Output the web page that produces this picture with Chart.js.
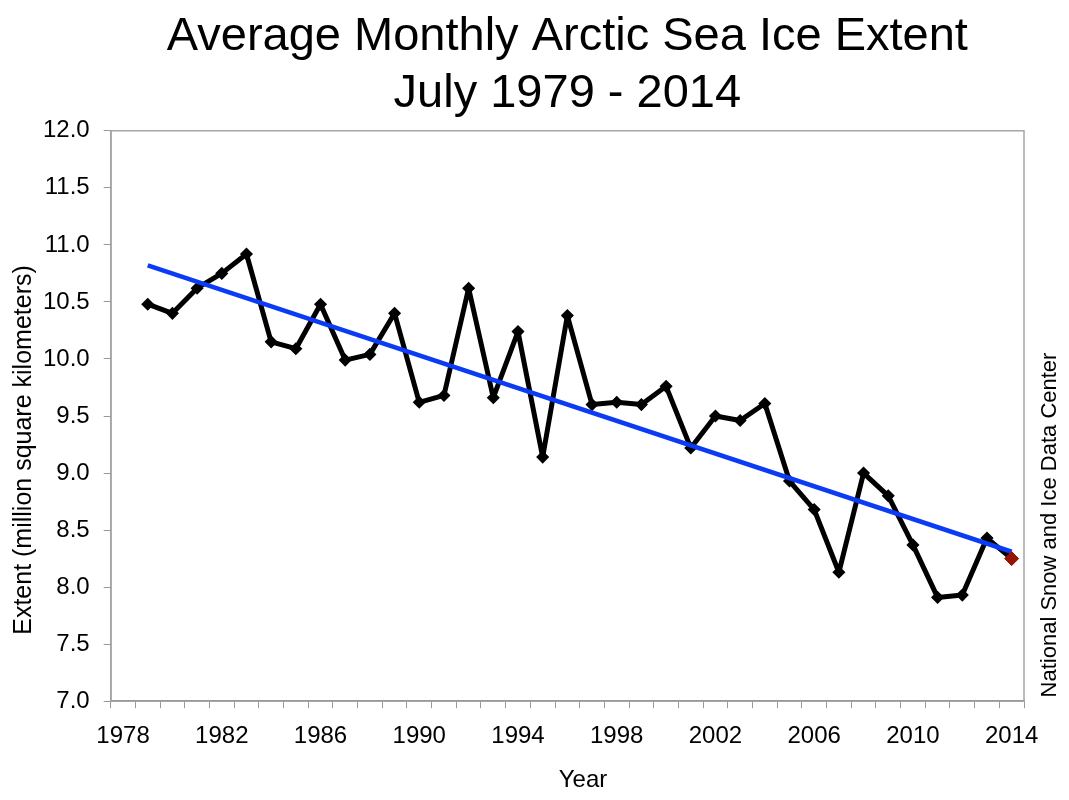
<!DOCTYPE html>
<html>
<head>
<meta charset="utf-8">
<script src="https://cdn.jsdelivr.net/npm/chart.js@4/dist/chart.umd.min.js"></script>
<style>
html,body{margin:0;padding:0;background:#fff;}
#wrap{width:1069px;height:800px;position:relative;}
</style>
</head>
<body>
<div id="wrap"><canvas id="c"></canvas></div>
<script>
// ---- data ----
const years = ['1978','1979','1980','1981','1982','1983','1984','1985','1986','1987',
  '1988','1989','1990','1991','1992','1993','1994','1995','1996','1997',
  '1998','1999','2000','2001','2002','2003','2004','2005','2006','2007',
  '2008','2009','2010','2011','2012','2013','2014'];
const extent = [null, 10.48, 10.40, 10.62, 10.75, 10.92, 10.15, 10.09, 10.48, 9.99,
  10.04, 10.40, 9.62, 9.68, 10.62, 9.66, 10.24, 9.14, 10.38, 9.60,
  9.62, 9.60, 9.76, 9.22, 9.50, 9.46, 9.61, 8.93, 8.68, 8.13,
  9.00, 8.80, 8.37, 7.91, 7.93, 8.43, 8.25];
const latestYear = '2014';
const latestValue = 8.25;
const trendStartYear = '1979';
const trendStartValue = 10.82;
const trendEndYear = '2014';
const trendEndValue = 8.31;
const yMin = 7.0, yMax = 12.0, yStep = 0.5;
const labelEvery = 4;
const titleLines = ['Average Monthly Arctic Sea Ice Extent', 'July 1979 - 2014'];
const yTitle = 'Extent (million square kilometers)';
const xTitle = 'Year';
const credit = 'National Snow and Ice Data Center';

// ---- derived series ----
const latestSeries = years.map(y => y === latestYear ? latestValue : null);
const trendSeries = years.map(y => y === trendStartYear ? trendStartValue : (y === trendEndYear ? trendEndValue : null));

const FONT = "'Liberation Sans', Arial, Helvetica, sans-serif";

const frame = {
  id: 'frame',
  beforeDatasetsDraw(chart) {
    const {ctx, chartArea: a} = chart;
    ctx.save();
    ctx.strokeStyle = '#a6a6a6';
    ctx.lineWidth = 1.5;
    ctx.strokeRect(a.left, a.top, a.right - a.left, a.bottom - a.top);
    ctx.restore();
  },
  afterDraw(chart) {
    const {ctx} = chart;
    ctx.save();
    ctx.fillStyle = '#000';
    ctx.font = '25px ' + FONT;
    ctx.textAlign = 'center';
    ctx.textBaseline = 'middle';
    ctx.translate(24, 450);
    ctx.rotate(-Math.PI / 2);
    ctx.fillText(yTitle, 0, 0);
    ctx.restore();

    ctx.save();
    ctx.fillStyle = '#000';
    ctx.font = '22px ' + FONT;
    ctx.textAlign = 'center';
    ctx.textBaseline = 'middle';
    ctx.translate(1050, 525);
    ctx.rotate(-Math.PI / 2);
    ctx.fillText(credit, 0, 0);
    ctx.restore();

    ctx.save();
    ctx.fillStyle = '#000';
    ctx.font = '24px ' + FONT;
    ctx.textAlign = 'center';
    ctx.textBaseline = 'alphabetic';
    ctx.fillText(xTitle, 583, 787);
    ctx.restore();
  }
};

new Chart(document.getElementById('c'), {
  type: 'line',
  data: {
    labels: years,
    datasets: [
      {
        label: 'July ' + latestYear,
        data: latestSeries,
        showLine: false,
        pointStyle: 'rectRot',
        pointRadius: 7,
        pointBackgroundColor: '#961400',
        pointBorderColor: '#961400',
        pointBorderWidth: 1
      },
      {
        label: 'Trend',
        data: trendSeries,
        spanGaps: true,
        borderColor: '#0b3bf5',
        borderWidth: 4.5,
        pointRadius: 0,
        tension: 0
      },
      {
        label: 'Extent',
        data: extent,
        borderColor: '#000',
        borderWidth: 5,
        borderJoinStyle: 'round',
        pointStyle: 'rectRot',
        pointRadius: 5.5,
        pointBackgroundColor: '#000',
        pointBorderColor: '#000',
        pointBorderWidth: 1.5,
        tension: 0
      }
    ]
  },
  options: {
    responsive: true,
    maintainAspectRatio: false,
    animation: false,
    layout: { padding: { left: 29, right: 45, top: 9, bottom: 35 } },
    plugins: {
      legend: { display: false },
      tooltip: { enabled: false },
      title: {
        display: true,
        text: titleLines,
        fullSize: false,
        color: '#000',
        font: { family: FONT, size: 47, weight: 'normal', lineHeight: 1.2 },
        padding: { top: 0, bottom: 9 }
      }
    },
    scales: {
      x: {
        type: 'category',
        offset: true,
        grid: {
          offset: true,
          drawOnChartArea: false,
          drawTicks: true,
          tickLength: 7,
          color: '#999',
          lineWidth: 1
        },
        border: { display: true, color: '#888', width: 1.5 },
        ticks: {
          autoSkip: false,
          maxRotation: 0,
          minRotation: 0,
          padding: 14,
          color: '#000',
          font: { family: FONT, size: 24, lineHeight: 1.2 },
          callback: (v, i) => (i % labelEvery === 0 ? years[i] : '')
        }
      },
      y: {
        min: yMin,
        max: yMax,
        grid: {
          drawOnChartArea: false,
          drawTicks: true,
          tickLength: 7,
          color: '#999',
          lineWidth: 1
        },
        border: { display: true, color: '#666', width: 1.5 },
        ticks: {
          stepSize: yStep,
          padding: 14,
          color: '#000',
          font: { family: FONT, size: 24, lineHeight: 1.2 },
          callback: v => Number(v).toFixed(1)
        }
      }
    }
  },
  plugins: [frame]
});
</script>
</body>
</html>
